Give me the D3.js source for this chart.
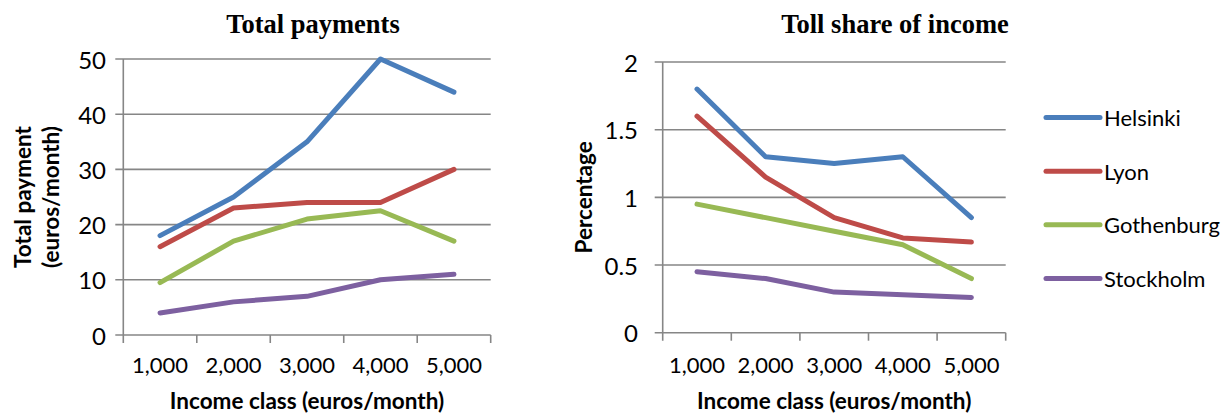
<!DOCTYPE html>
<html>
<head>
<meta charset="utf-8">
<script src="https://cdn.jsdelivr.net/npm/d3@7"></script>
<style>
  html, body { margin: 0; padding: 0; background: #fff; }
  svg { display: block; }
  text { font-family: Lato, "Open Sans", sans-serif; fill: #000; }
  .title { font-family: "Liberation Serif", "Times New Roman", serif; font-weight: bold; }
</style>
</head>
<body>
<svg id="chart" width="1224" height="414"></svg>
<script>
// Income classes shared by both panels
const incomeClasses = ["1,000", "2,000", "3,000", "4,000", "5,000"];
const cities = ["Helsinki", "Lyon", "Gothenburg", "Stockholm"];
const cityColors = ["#4A7EBB", "#BE4B48", "#98B954", "#7D60A0"];

// Total payment (euros/month) per income class
const paymentHelsinki   = [18, 25, 35, 50, 44];
const paymentLyon       = [16, 23, 24, 24, 30];
const paymentGothenburg = [9.5, 17, 21, 22.5, 17];
const paymentStockholm  = [4, 6, 7, 10, 11];
const paymentTicks = [0, 10, 20, 30, 40, 50];

// Toll share of income (percentage) per income class
const shareHelsinki   = [1.8, 1.3, 1.25, 1.3, 0.85];
const shareLyon       = [1.6, 1.15, 0.85, 0.7, 0.67];
const shareGothenburg = [0.95, 0.85, 0.75, 0.65, 0.4];
const shareStockholm  = [0.45, 0.4, 0.3, 0.28, 0.26];
const shareTicks = [0, 0.5, 1, 1.5, 2];

const svg = d3.select("#chart");
const gridColor = "#868686";

function drawPanel(opt) {
  const x = d3.scaleBand().domain(incomeClasses).range([opt.x0, opt.x1]).paddingInner(0).paddingOuter(0);
  const y = d3.scaleLinear().domain([0, opt.max]).range([opt.yBottom, opt.yTop]);
  const g = svg.append("g");

  // horizontal gridlines with short tick extensions on the left
  g.selectAll("line.grid").data(opt.ticks).join("line")
    .attr("x1", opt.x0 - 8).attr("x2", opt.x1)
    .attr("y1", d => y(d)).attr("y2", d => y(d))
    .attr("stroke", gridColor).attr("stroke-width", 1.6);

  // vertical axis line
  g.append("line")
    .attr("x1", opt.x0).attr("x2", opt.x0)
    .attr("y1", y(opt.max)).attr("y2", y(0) + 8)
    .attr("stroke", gridColor).attr("stroke-width", 1.6);

  // category boundary ticks below the baseline
  const bounds = incomeClasses.map(c => x(c)).concat([opt.x1]);
  g.selectAll("line.xtick").data(bounds.slice(1)).join("line")
    .attr("x1", d => d).attr("x2", d => d)
    .attr("y1", y(0)).attr("y2", y(0) + 8)
    .attr("stroke", gridColor).attr("stroke-width", 1.6);

  // y tick labels
  g.selectAll("text.ytick").data(opt.ticks).join("text")
    .attr("x", opt.yLabelX).attr("y", d => y(d))
    .attr("text-anchor", "end").attr("dominant-baseline", "central")
    .style("font-size", "24px")
    .text(d => d);

  // x tick labels
  g.selectAll("text.xtick").data(incomeClasses).join("text")
    .attr("x", d => x(d) + x.bandwidth() / 2).attr("y", 373)
    .attr("text-anchor", "middle")
    .style("font-size", "22px")
    .text(d => d);

  // series lines
  const line = d3.line()
    .x((d, i) => x(incomeClasses[i]) + x.bandwidth() / 2)
    .y(d => y(d));
  g.selectAll("path.series").data(opt.series).join("path")
    .attr("d", d => line(d))
    .attr("fill", "none")
    .attr("stroke", (d, i) => cityColors[i])
    .attr("stroke-width", 5)
    .attr("stroke-linejoin", "round")
    .attr("stroke-linecap", "round");

  // panel title
  g.append("text").attr("class", "title")
    .attr("x", opt.titleX).attr("y", 33)
    .attr("text-anchor", "middle")
    .style("font-size", "26.5px")
    .text(opt.title);

  // x axis title
  g.append("text")
    .attr("x", (opt.x0 + opt.x1) / 2).attr("y", 409)
    .attr("text-anchor", "middle")
    .style("font-size", "22.5px").style("font-weight", "bold")
    .text("Income class (euros/month)");

  // y axis title (one or two lines)
  const cy = (opt.yTop + opt.yBottom) / 2;
  opt.yTitle.forEach((t, i) => {
    g.append("text")
      .attr("transform", `translate(${opt.yTitleX[i]},${cy}) rotate(-90)`)
      .attr("text-anchor", "middle").attr("dominant-baseline", "central")
      .style("font-size", "22.5px").style("font-weight", "bold")
      .text(t);
  });
}

drawPanel({
  x0: 123.3, x1: 490.7, yTop: 59, yBottom: 335, max: 50,
  ticks: paymentTicks, yLabelX: 106, titleX: 313,
  title: "Total payments",
  yTitle: ["Total payment", "(euros/month)"], yTitleX: [22, 50],
  series: [paymentHelsinki, paymentLyon, paymentGothenburg, paymentStockholm]
});

drawPanel({
  x0: 662.7, x1: 1005.7, yTop: 62, yBottom: 332.7, max: 2,
  ticks: shareTicks, yLabelX: 638, titleX: 895,
  title: "Toll share of income",
  yTitle: ["Percentage"], yTitleX: [583],
  series: [shareHelsinki, shareLyon, shareGothenburg, shareStockholm]
});

// legend
const legendY = d3.scalePoint().domain(cities).range([117.5, 278.5]);
const legend = svg.append("g");
legend.selectAll("line").data(cities).join("line")
  .attr("x1", 1046).attr("x2", 1100)
  .attr("y1", d => legendY(d)).attr("y2", d => legendY(d))
  .attr("stroke", (d, i) => cityColors[i])
  .attr("stroke-width", 5).attr("stroke-linecap", "round");
legend.selectAll("text").data(cities).join("text")
  .attr("x", 1104).attr("y", d => legendY(d))
  .attr("dominant-baseline", "central")
  .style("font-size", "22px")
  .text(d => d);
</script>
</body>
</html>
